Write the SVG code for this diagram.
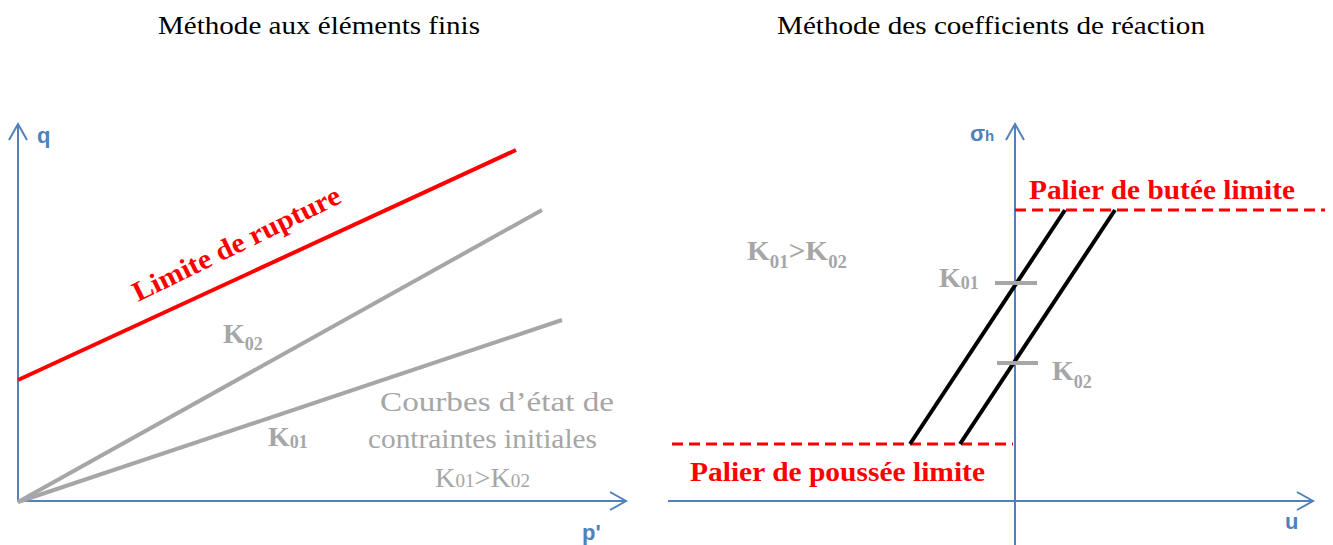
<svg xmlns="http://www.w3.org/2000/svg" width="1333" height="545" viewBox="0 0 1333 545">
<style>
.title{font-family:"Liberation Serif",serif;font-size:25px;fill:#000}
.axis{stroke:#4f81bd;stroke-width:2;fill:none}
.axlab{font-family:"Liberation Sans",sans-serif;font-weight:bold;fill:#4f81bd}
.gray{stroke:#a6a6a6;stroke-width:4;fill:none}
.klab{font-family:"Liberation Serif",serif;font-weight:bold;fill:#a6a6a6;font-size:28px}
.red{stroke:#ff0000;stroke-width:4;fill:none}
.reddash{stroke:#ff0000;stroke-width:3;stroke-dasharray:11,6;fill:none}
.redtxt{font-family:"Liberation Serif",serif;font-weight:bold;fill:#ff0000;font-size:28px}
.blk{stroke:#000;stroke-width:4;fill:none}
.note{font-family:"Liberation Serif",serif;fill:#a6a6a6;font-size:28px}
</style>
<rect width="1333" height="545" fill="#fff"/>
<text class="title" x="158" y="34" textLength="322" lengthAdjust="spacingAndGlyphs">Méthode aux éléments finis</text>
<text class="title" x="777" y="34" textLength="428" lengthAdjust="spacingAndGlyphs">Méthode des coefficients de réaction</text>
<g id="connectors">
<path class="axis" d="M18,502 V124 M9,140 L18,124 L27,140"/>
<path class="axis" d="M18,501 H626 M610,492 L626,501 L610,510"/>
<path class="axis" d="M1015,545 V124 M1006,140 L1015,124 L1024,140"/>
<path class="axis" d="M668,501 H1313 M1297,492 L1313,501 L1297,510"/>
<line class="red" x1="18" y1="380" x2="516" y2="150"/>
<line class="gray" x1="18" y1="502" x2="542" y2="210"/>
<line class="gray" x1="18" y1="502" x2="562" y2="320"/>
<line class="reddash" x1="1015" y1="210" x2="1325" y2="210"/>
<line class="reddash" x1="672" y1="444" x2="1013" y2="444"/>
<line class="blk" x1="910" y1="444" x2="1065" y2="210"/>
<line class="blk" x1="960" y1="444" x2="1115" y2="210"/>
<line class="gray" x1="995" y1="283" x2="1037" y2="283"/>
<line class="gray" x1="997" y1="363" x2="1038" y2="363"/>
</g>
<g id="q-label"><text class="axlab" x="37" y="143" font-size="22">q</text></g>
<g id="p-label"><text class="axlab" x="582" y="540" font-size="22">p'</text></g>
<g id="sigma-label"><text class="axlab" x="970" y="141" font-size="22">σ<tspan font-size="15">h</tspan></text></g>
<g id="u-label"><text class="axlab" x="1285" y="529" font-size="22">u</text></g>
<g id="rupture"><text class="redtxt" transform="translate(138,302) rotate(-26)" textLength="228" lengthAdjust="spacingAndGlyphs">Limite de rupture</text></g>
<g id="k02-left"><text class="klab" x="223" y="343">K<tspan font-size="18" dy="7">02</tspan></text></g>
<g id="k01-left"><text class="klab" x="268" y="446">K<tspan font-size="18" dy="2">01</tspan></text></g>
<g id="courbes">
<text class="note" x="380" y="411" textLength="234" lengthAdjust="spacingAndGlyphs">Courbes d’état de</text>
<text class="note" x="368" y="448" textLength="229" lengthAdjust="spacingAndGlyphs">contraintes initiales</text>
<text class="note" x="435" y="487" textLength="95" lengthAdjust="spacingAndGlyphs">K<tspan font-size="19">01</tspan>&gt;K<tspan font-size="19">02</tspan></text>
</g>
<g id="k-compare"><text class="klab" x="747" y="260" textLength="100" lengthAdjust="spacingAndGlyphs">K<tspan font-size="18" dy="8">01</tspan><tspan dy="-8">&gt;K</tspan><tspan font-size="18" dy="8">02</tspan></text></g>
<g id="k01-right"><text class="klab" x="939" y="287">K<tspan font-size="18" dy="2">01</tspan></text></g>
<g id="k02-right"><text class="klab" x="1052" y="380">K<tspan font-size="18" dy="8">02</tspan></text></g>
<g id="butee"><text class="redtxt" x="1029" y="199" textLength="266" lengthAdjust="spacingAndGlyphs">Palier de butée limite</text></g>
<g id="poussee"><text class="redtxt" x="690" y="481" textLength="295" lengthAdjust="spacingAndGlyphs">Palier de poussée limite</text></g>
</svg>
